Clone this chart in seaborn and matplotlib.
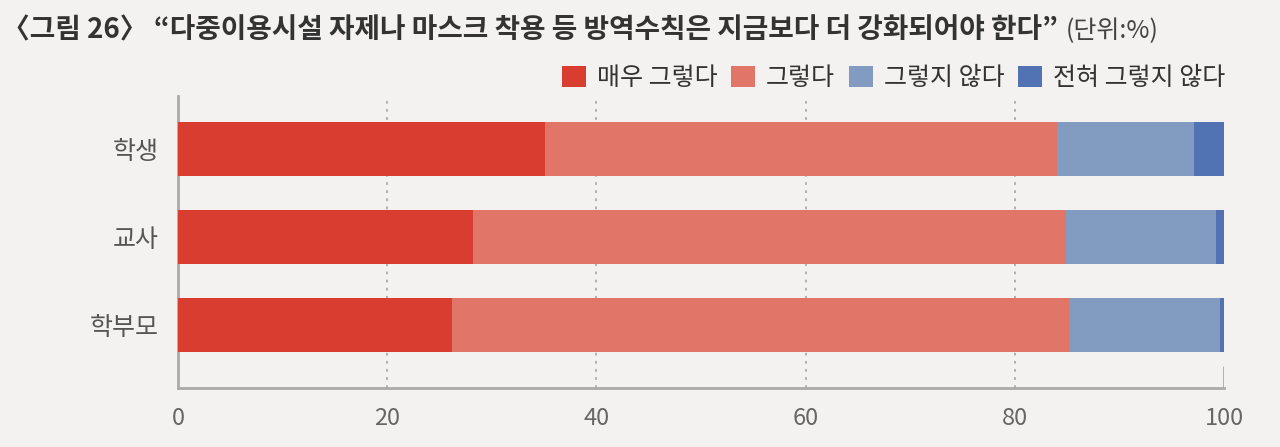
import pandas as pd
import numpy as np
import matplotlib.pyplot as plt
import seaborn as sns
from matplotlib.patches import Patch

# values (%)
groups = ["학생", "교사", "학부모"]
answers = ["매우 그렇다", "그렇다", "그렇지 않다", "전혀 그렇지 않다"]
very_agree = [35.1, 28.2, 26.2]
agree = [48.9, 56.7, 59.0]
disagree = [13.1, 14.3, 14.4]
very_disagree = [2.9, 0.8, 0.4]
x_ticks = [0, 20, 40, 60, 80, 100]

colors = ["#D93D30", "#E17568", "#829BC1", "#5173B4"]
bg = "#F3F2F0"

sns.set_theme(style="white")
plt.rcParams["font.family"] = ["Noto Sans CJK KR", "DejaVu Sans"]

df = pd.DataFrame({
    "group": groups,
    answers[0]: very_agree,
    answers[1]: agree,
    answers[2]: disagree,
    answers[3]: very_disagree,
})
# cumulative sums so the stacked bars can be drawn back to front
cum = df[answers].cumsum(axis=1)
cum["group"] = df["group"]

fig = plt.figure(figsize=(12.8, 4.47), dpi=100, facecolor=bg)
ax = fig.add_axes([178 / 1280, 1 - 388 / 447, (1224 - 178) / 1280, (388 - 96) / 447])
ax.set_facecolor(bg)

for ans, col in reversed(list(zip(answers, colors))):
    sns.barplot(data=cum, x=ans, y="group", order=groups, color=col,
                width=0.61, orient="h", ax=ax, saturation=1, zorder=3,
                edgecolor="none")

ax.set_xlim(0, 100)
ax.set_ylim(2.71, -0.597)
ax.set_xticks(x_ticks)
ax.set_xticklabels([str(t) for t in x_ticks])
ax.set_xlabel("")
ax.set_ylabel("")
ax.tick_params(axis="x", length=0, labelsize=17, labelcolor="#666666", pad=14)
ax.tick_params(axis="y", length=0, labelsize=18, labelcolor="#555555", pad=14)

for t in x_ticks[1:-1]:
    ax.axvline(t, color="#AAAAAA", linestyle=(0, (1.5, 3)), linewidth=1.3, zorder=1)
ax.axvline(100, ymin=0, ymax=21 / 292, color="#AAAAAA", linewidth=2, zorder=1)

for side in ["top", "right"]:
    ax.spines[side].set_visible(False)
for side in ["left", "bottom"]:
    ax.spines[side].set_color("#AAAAAA")
    ax.spines[side].set_linewidth(2)

handles = [Patch(facecolor=c, edgecolor="none", label=a) for a, c in zip(answers, colors)]
fig.legend(handles=handles, loc="center right", bbox_to_anchor=(1248 / 1280, 1 - 78 / 447),
           ncol=4, frameon=False, fontsize=18, handlelength=0.95, handleheight=0.95,
           handletextpad=0.45, columnspacing=0.55, labelcolor="#333333")

title = fig.text(2 / 1280, 1 - 30 / 447,
                 "〈그림 26〉 “다중이용시설 자제나 마스크 착용 등 방역수칙은 지금보다 더 강화되어야 한다”",
                 fontsize=20, fontweight="bold", color="#333333", va="center", ha="left")
fig.canvas.draw()
bb = title.get_window_extent(fig.canvas.get_renderer())
fig.text(bb.x1 / 1280 + 8 / 1280, 1 - 31 / 447, "(단위:%)", fontsize=18,
         color="#444444", va="center", ha="left")

fig.savefig("out.png", dpi=100, facecolor=bg)
